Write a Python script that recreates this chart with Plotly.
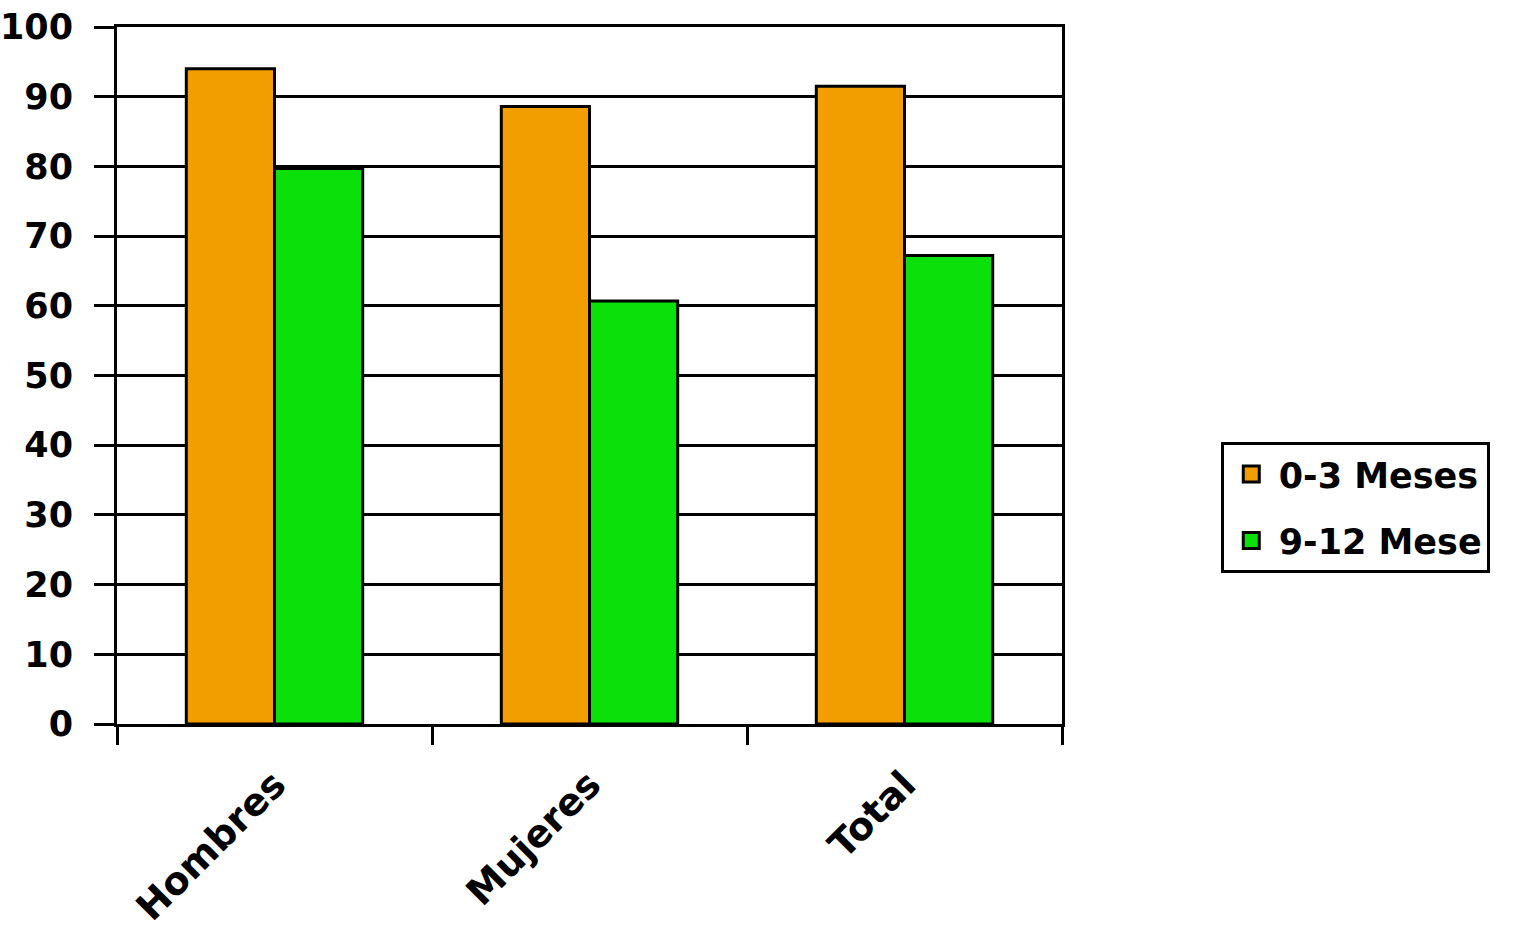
import plotly.graph_objects as go

categories = ["Hombres", "Mujeres", "Total"]
meses_0_3 = [94.0, 88.6, 91.5]
meses_9_12 = [79.7, 60.7, 67.2]
series_names = ["0-3 Meses", "9-12 Mese"]
y_ticks = list(range(0, 101, 10))

ORANGE = "#F29D00"
GREEN = "#0BE00B"
FAMILY = "DejaVu Sans, Arial, sans-serif"
FONT = dict(family=FAMILY, size=36, color="black", weight="bold")

fig = go.Figure()

for name, values, color in [(series_names[0], meses_0_3, ORANGE),
                            (series_names[1], meses_9_12, GREEN)]:
    fig.add_trace(go.Bar(
        x=categories, y=values, name=name,
        marker=dict(color=color, line=dict(color="black", width=3)),
        showlegend=False,
    ))
    # legend entry with a larger square symbol
    fig.add_trace(go.Scatter(
        x=[None], y=[None], mode="markers", name=name, legendgroup=name,
        marker=dict(symbol="square", size=20, color=color,
                    line=dict(color="black", width=3)),
    ))

fig.update_layout(
    width=1514, height=944,
    margin=dict(l=117, r=452, t=27, b=220),
    paper_bgcolor="white", plot_bgcolor="white",
    barmode="group", bargap=0.44, bargroupgap=0,
    font=FONT,
    legend=dict(
        x=1.168, y=0.311, xanchor="left", yanchor="middle",
        bordercolor="black", borderwidth=3, bgcolor="white",
        font=dict(family=FAMILY, size=35, color="black", weight="bold"),
        tracegroupgap=18, itemsizing="trace", itemwidth=45,
    ),
    xaxis=dict(
        type="category", tickson="boundaries", ticks="outside", ticklen=18,
        tickwidth=3, tickcolor="black", showline=True, linecolor="black",
        linewidth=3, mirror=True, tickangle=-45, showgrid=False,
        tickfont=dict(size=38), ticklabelstandoff=20,
        ticklabeloverflow="allow", range=[-0.5, 2.5], automargin=False,
    ),
    yaxis=dict(
        range=[0, 100], tickvals=y_ticks, ticks="outside", ticklen=20,
        tickwidth=3, tickcolor="black", showline=True, linecolor="black",
        linewidth=3, mirror=True, showgrid=True, gridcolor="black",
        gridwidth=3, zeroline=False, tickfont=dict(size=35),
        ticklabelstandoff=14, ticklabeloverflow="allow", automargin=False,
    ),
)

# drop the browser's default 8px body margin so the figure fills the window
fig.write_html("out.html", config={"displayModeBar": False},
               post_script="document.body.style.margin='0';")
